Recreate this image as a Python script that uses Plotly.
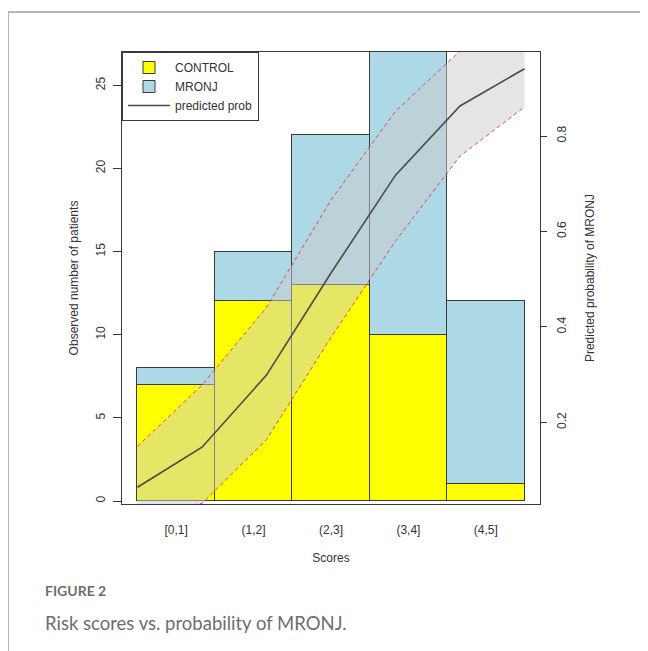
import plotly.graph_objects as go

# ---- data ----
score_bins = ["[0,1]", "(1,2]", "(2,3]", "(3,4]", "(4,5]"]
control_counts = [7, 12, 13, 10, 1]
mronj_counts = [1, 3, 9, 20, 11]

score_points = [0, 1, 2, 3, 4, 5, 6]
pred_prob = [0.064, 0.148, 0.299, 0.513, 0.718, 0.863, 0.941]
pred_upper = [0.150, 0.278, 0.441, 0.666, 0.852, 0.978, 0.995]
pred_lower = [0.010, 0.030, 0.164, 0.378, 0.580, 0.758, 0.861]

left_ticks = [0, 5, 10, 15, 20, 25]
right_ticks = [0.2, 0.4, 0.6, 0.8]

# ---- styling ----
FONT = "Liberation Sans, Arial, sans-serif"
EDGE = "#3a3a3a"
TXT = "#333333"

# R-like 4% padding for the overlaid probability plot
pmin, pmax = min(pred_prob), max(pred_prob)
pad_p = 0.04 * (pmax - pmin)
y2_range = [pmin - pad_p, pmax + pad_p]
smin, smax = min(score_points), max(score_points)
pad_s = 0.04 * (smax - smin)
x2_range = [smin - pad_s, smax + pad_s]

fig = go.Figure()

fig.add_trace(go.Bar(
    x=score_bins, y=control_counts, name="CONTROL",
    marker=dict(color="#FFFF00", line=dict(color=EDGE, width=1)),
    xaxis="x", yaxis="y",
))
fig.add_trace(go.Bar(
    x=score_bins, y=mronj_counts, name="MRONJ",
    marker=dict(color="#ADD8E6", line=dict(color=EDGE, width=1)),
    xaxis="x", yaxis="y",
))

# confidence band
fig.add_trace(go.Scatter(
    x=score_points, y=pred_lower, mode="lines",
    line=dict(color="rgba(225,45,70,0.85)", width=1, dash="4px,3px"),
    showlegend=False, hoverinfo="skip", xaxis="x2", yaxis="y2",
))
fig.add_trace(go.Scatter(
    x=score_points, y=pred_upper, mode="lines",
    line=dict(color="rgba(225,45,70,0.85)", width=1, dash="4px,3px"),
    fill="tonexty", fillcolor="rgba(204,204,204,0.5)",
    showlegend=False, hoverinfo="skip", xaxis="x2", yaxis="y2",
))
fig.add_trace(go.Scatter(
    x=score_points, y=pred_prob, mode="lines", name="predicted prob",
    line=dict(color="#4a4a4a", width=1.6),
    xaxis="x2", yaxis="y2",
))

# page body has an 8px margin; work in window coordinates and shift
OFF = 8
W, H = 648 - OFF, 651 - OFF
L, R, T, B = 122 - OFF, 540 - OFF, 52 - OFF, 504 - OFF
pw, ph = R - L, B - T


def px(xw):
    return (xw - OFF - L) / pw


def py(yw):
    return (B - (yw - OFF)) / ph


fig.update_layout(
    width=W, height=H,
    margin=dict(l=L, r=W - R, t=T, b=H - B, pad=0),
    paper_bgcolor="white", plot_bgcolor="white",
    barmode="stack", bargap=0,
    font=dict(family=FONT, size=12, color=TXT),
    showlegend=True,
    legend=dict(
        x=0, y=1, xanchor="left", yanchor="top",
        bordercolor=EDGE, borderwidth=1, bgcolor="white",
        traceorder="normal", font=dict(family=FONT, size=12, color=TXT),
        itemwidth=42, tracegroupgap=0,
    ),
    xaxis=dict(
        type="category", categoryorder="array", categoryarray=score_bins,
        range=[-0.7, 4.7], showgrid=False, zeroline=False,
        showline=True, mirror=True, linecolor=EDGE, linewidth=1,
        ticks="", ticklabelstandoff=15,
        tickfont=dict(family=FONT, size=12, color=TXT),
        title=dict(text="Scores", standoff=17, font=dict(family=FONT, size=12, color=TXT)),
    ),
    yaxis=dict(
        range=[-0.18, 27], tickvals=left_ticks, tickangle=-90,
        showgrid=False, zeroline=False,
        showline=True, mirror=True, linecolor=EDGE, linewidth=1,
        ticks="outside", ticklen=8, tickcolor=EDGE, ticklabelstandoff=3,
        tickfont=dict(family=FONT, size=12, color=TXT),
        title=dict(text="Observed number of patients", standoff=13,
                   font=dict(family=FONT, size=12, color=TXT)),
    ),
    xaxis2=dict(overlaying="x", range=x2_range, visible=False),
    yaxis2=dict(
        overlaying="y", side="right", range=y2_range, tickvals=right_ticks,
        tickangle=-90, showgrid=False, zeroline=False, showline=False,
        ticks="outside", ticklen=6, tickcolor=EDGE, ticklabelstandoff=5,
        tickfont=dict(family=FONT, size=12, color=TXT),
        title=dict(text="Predicted probability of MRONJ", standoff=17,
                   font=dict(family=FONT, size=12, color=TXT)),
    ),
    shapes=[
        dict(type="rect", xref="paper", yref="paper", layer="below",
             x0=px(8), x1=px(680), y0=py(690), y1=py(12),
             line=dict(color="#b5b5b5", width=2), fillcolor="rgba(0,0,0,0)"),
    ],
    annotations=[
        dict(text="<b>FIGURE 2</b>", xref="paper", yref="paper",
             x=px(43), y=py(590), xanchor="left", yanchor="middle", showarrow=False,
             font=dict(family="Lato, Open Sans, sans-serif", size=14, color="#6e6e6e")),
        dict(text="Risk scores vs. probability of MRONJ.", xref="paper", yref="paper",
             x=px(43), y=py(623), xanchor="left", yanchor="middle", showarrow=False,
             font=dict(family="Lato, Open Sans, sans-serif", size=18.5, color="#6e6e6e")),
    ],
)

fig.write_html("out.html")
